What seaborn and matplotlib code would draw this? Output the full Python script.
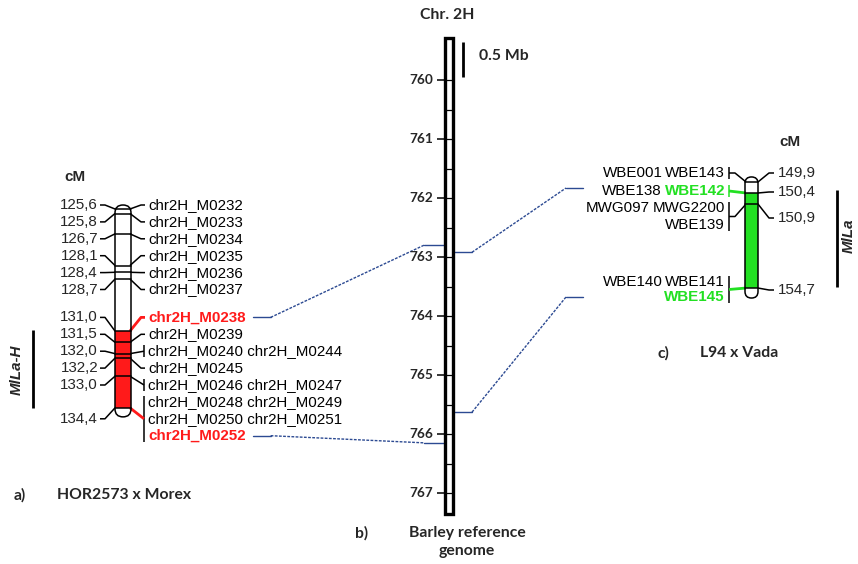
import matplotlib
matplotlib.use("Agg")
import matplotlib.pyplot as plt
import seaborn as sns
import numpy as np
import pandas as pd
from matplotlib.patches import FancyBboxPatch, Rectangle

# ---------------- data ----------------
# a) HOR2573 x Morex
hm_cm = [125.6, 125.8, 126.7, 128.1, 128.4, 128.7, 131.0, 131.5, 132.0, 132.2, 133.0, 134.4]
hm_cm_labels = ["125,6", "125,8", "126,7", "128,1", "128,4", "128,7",
                "131,0", "131,5", "132,0", "132,2", "133,0", "134,4"]
hm_rows = [["chr2H_M0232"], ["chr2H_M0233"], ["chr2H_M0234"], ["chr2H_M0235"],
           ["chr2H_M0236"], ["chr2H_M0237"], ["chr2H_M0238"], ["chr2H_M0239"],
           ["chr2H_M0240", "chr2H_M0244"], ["chr2H_M0245"],
           ["chr2H_M0246", "chr2H_M0247"], ["chr2H_M0248", "chr2H_M0249"],
           ["chr2H_M0250", "chr2H_M0251"], ["chr2H_M0252"]]
hm_row_cm = [125.6, 125.8, 126.7, 128.1, 128.4, 128.7, 131.0, 131.5, 132.0, 132.2,
             133.0, 134.4, 134.4, 134.4]
hm_highlight = ["chr2H_M0238", "chr2H_M0252"]
hm_region = [131.0, 134.4]
hm_locus = "MlLa-H"

# c) L94 x Vada
lv_cm = [149.9, 150.4, 150.9, 154.7]
lv_cm_labels = ["149,9", "150,4", "150,9", "154,7"]
lv_rows = [["WBE001", "WBE143"], ["WBE138", "WBE142"], ["MWG097", "MWG2200"],
           ["WBE139"], ["WBE140", "WBE141"], ["WBE145"]]
lv_row_cm = [149.9, 150.4, 150.9, 150.9, 154.7, 154.7]
lv_highlight = ["WBE142", "WBE145"]
lv_region = [150.4, 154.7]
lv_locus = "MlLa"

# b) Barley reference genome, chr. 2H (Mb)
ref_ticks = [760, 761, 762, 763, 764, 765, 766, 767]
ref_span = [759.29, 767.35]
link_left_markers = ["chr2H_M0238", "chr2H_M0252"]
link_left_mb = [762.80, 766.15]
link_right_markers = ["WBE142", "WBE145"]
link_right_mb = [762.92, 765.63]

# ---------------- style / layout ----------------
sns.set_style("white")
RED = "#ff1a1a"
GREEN = "#22e022"
BLUE = "#2c4a92"
ARIAL = ["Liberation Sans", "DejaVu Sans"]
CALIBRI = ["Lato", "DejaVu Sans"]
FS = 10.9
TS = 11.3

fig = plt.figure(figsize=(8.58, 5.64), dpi=100)
ax = fig.add_axes([0, 0, 1, 1])
ax.set_xlim(0, 858)
ax.set_ylim(564, 0)
ax.axis("off")
renderer = fig.canvas.get_renderer()


def y_hm(c):
    return 209 + (c - 125.6) * 22.6


def y_lv(c):
    return 193 + (c - 150.4) * 22.1


def y_mb(m):
    return 80 + (m - 760) * 59.0


def hm_row_y(i):
    return 205 + 16.9 * i + (11 if i >= 6 else 0)


lv_row_y = [173, 191, 208, 225, 282, 297]
lv_cm_y = [173, 192, 218, 290]
hm_cm_row = [0, 1, 2, 3, 4, 5, 6, 7, 8, 9, 10, 12]


def seg(xs, ys, color="black", lw=1.1, ls="-"):
    ax.plot(xs, ys, color=color, lw=lw, ls=ls, solid_capstyle="butt")


def chromosome(x0, w, top, bottom, region, yfun, color, cms):
    patch = FancyBboxPatch((x0, top), w, bottom - top,
                           boxstyle=f"round,pad=0,rounding_size={w / 2}",
                           fc="white", ec="none", zorder=2)
    ax.add_patch(patch)
    fill = Rectangle((x0, yfun(region[0])), w, yfun(region[1]) - yfun(region[0]),
                     fc=color, ec="none", zorder=3)
    ax.add_patch(fill)
    fill.set_clip_path(patch)
    for c in cms:
        ax.plot([x0, x0 + w], [yfun(c), yfun(c)], color="black", lw=1.1, zorder=4)
    outline = FancyBboxPatch((x0, top), w, bottom - top,
                             boxstyle=f"round,pad=0,rounding_size={w / 2}",
                             fc="none", ec="black", lw=1.1, zorder=5)
    ax.add_patch(outline)


# ---------- a) left map ----------
cx0, cw = 115, 16
chromosome(cx0, cw, y_hm(125.6) - 4, y_hm(134.4) + 9, hm_region, y_hm, RED, hm_cm)

for c, lab, r in zip(hm_cm, hm_cm_labels, hm_cm_row):
    ly = hm_row_y(r)
    ax.text(98, ly, lab, ha="right", va="center", family=ARIAL, fontsize=FS)
    seg([100, 105, cx0], [ly, ly, y_hm(c)])

label_end = {}
for c in hm_cm:
    rows = [i for i, rc in enumerate(hm_row_cm) if rc == c]
    names = [n for i in rows for n in hm_rows[i]]
    hl = any(n in hm_highlight for n in names)
    col = RED if hl else "black"
    lw = 2.0 if hl else 1.1
    ys = [hm_row_y(i) for i in rows]
    if len(names) > 1:
        ytop, ybot = min(ys) - 6, max(ys) + 6
        seg([144, 144], [ytop, ybot], color="black")
        seg([cx0 + cw - 1, 144], [y_hm(c), (ytop + ybot) / 2], color=col, lw=lw)
    else:
        seg([cx0 + cw - 1, 141, 145], [y_hm(c), ys[0], ys[0]], color=col, lw=lw)

for i, row in enumerate(hm_rows):
    ly = hm_row_y(i)
    hl = row[0] in hm_highlight
    t = ax.text(148, ly, " ".join(row), ha="left", va="center", family=ARIAL,
                fontsize=FS, color=RED if hl else "black",
                fontweight="bold" if hl else "normal")
    label_end[row[0]] = t.get_window_extent(renderer).x1

ax.text(75, 177, "cM", ha="center", va="center", family=ARIAL, fontsize=FS,
        fontweight="bold")
seg([33, 33], [y_hm(hm_region[0]) - 1, y_hm(hm_region[1])], lw=2)
ax.text(17, (y_hm(hm_region[0]) + y_hm(hm_region[1])) / 2, hm_locus, rotation=90,
        ha="center", va="center", family=ARIAL, fontsize=FS, fontweight="bold",
        fontstyle="italic")
ax.text(14, 495, "a)", ha="left", va="center", family=CALIBRI, fontsize=TS,
        fontweight="bold")
ax.text(57, 495, "HOR2573 x Morex", ha="left", va="center", family=CALIBRI,
        fontsize=TS, fontweight="bold")

# ---------- b) reference genome ----------
rx0, rw = 444.5, 8.5
for m in ref_ticks:
    seg([437, rx0], [y_mb(m), y_mb(m)])
    ax.text(433, y_mb(m), str(m), ha="right", va="center", family=CALIBRI,
            fontsize=9.8, fontweight="bold")
halves = sorted(set(ref_ticks) | {m + 0.5 for m in ref_ticks[:-1]})
for m in halves:
    seg([rx0, rx0 + rw], [y_mb(m), y_mb(m)], lw=0.9)
ax.add_patch(Rectangle((rx0, y_mb(ref_span[0])), rw,
                       y_mb(ref_span[1]) - y_mb(ref_span[0]),
                       fill=False, ec="black", lw=2.4, zorder=5))
seg([463, 463], [42, 42 + 0.5 * 59 + 5], lw=2)
ax.text(479, 56, "0.5 Mb", ha="left", va="center", family=CALIBRI, fontsize=TS,
        fontweight="bold")
ax.text(447, 15, "Chr. 2H", ha="center", va="center", family=CALIBRI,
        fontsize=TS, fontweight="bold")
ax.text(355, 533, "b)", ha="left", va="center", family=CALIBRI, fontsize=TS,
        fontweight="bold")
ax.text(467, 533, "Barley reference", ha="center", va="center", family=CALIBRI,
        fontsize=TS, fontweight="bold")
ax.text(467, 551, "genome", ha="center", va="center", family=CALIBRI,
        fontsize=TS, fontweight="bold")

# ---------- c) right map ----------
gx0, gw = 745, 13
chromosome(gx0, gw, y_lv(149.9) - 5, y_lv(154.7) + 10, lv_region, y_lv, GREEN, lv_cm)

for c, lab, ly in zip(lv_cm, lv_cm_labels, lv_cm_y):
    seg([gx0 + gw, 769, 774], [y_lv(c), ly, ly])
    ax.text(778, ly, lab, ha="left", va="center", family=ARIAL, fontsize=FS)

space = 2.5
for i, row in enumerate(lv_rows):
    ly = lv_row_y[i]
    x = 725
    for n in reversed(row):
        hl = n in lv_highlight
        t = ax.text(x, ly, n, ha="right", va="center", family=ARIAL, fontsize=FS,
                    color=GREEN if hl else "black",
                    fontweight="bold" if hl else "normal")
        x -= t.get_window_extent(renderer).width + space

for c in lv_cm:
    rows = [i for i, rc in enumerate(lv_row_cm) if rc == c]
    names = [n for i in rows for n in lv_rows[i]]
    hl = any(n in lv_highlight for n in names)
    col = GREEN if hl else "black"
    lw = 2.0 if hl else 1.1
    ys = [lv_row_y[i] for i in rows]
    ytop, ybot = min(ys) - 6, max(ys) + 6
    bcol = col if len(rows) == 1 and hl else "black"
    seg([729, 729], [ytop, ybot], color=bcol)
    ym = (ytop + ybot) / 2
    if abs(ym - y_lv(c)) < 4:
        seg([729, gx0 + 1], [ym, y_lv(c)], color=col, lw=lw)
    else:
        seg([729, 735, gx0 + 1], [ym, ym, y_lv(c)], color=col, lw=lw)

ax.text(790, 142, "cM", ha="center", va="center", family=ARIAL, fontsize=FS,
        fontweight="bold")
seg([837, 837], [190, 287], lw=2)
ax.text(849, 236, lv_locus, rotation=90, ha="center", va="center", family=ARIAL,
        fontsize=FS, fontweight="bold", fontstyle="italic")
ax.text(657, 353, "c)", ha="left", va="center", family=CALIBRI, fontsize=TS,
        fontweight="bold")
ax.text(700, 353, "L94 x Vada", ha="left", va="center", family=CALIBRI,
        fontsize=TS, fontweight="bold")

# ---------- links to reference genome ----------
for name, mb in zip(link_left_markers, link_left_mb):
    i = [k for k, r in enumerate(hm_rows) if name in r][0]
    ly = hm_row_y(i)
    x0 = label_end[name] + 7
    ym = y_mb(mb)
    sns.lineplot(x=[x0, x0 + 18], y=[ly, ly], color=BLUE, lw=1, ax=ax, sort=False,
                 estimator=None)
    sns.lineplot(x=[x0 + 18, 424], y=[ly, ym], color=BLUE, lw=1, ax=ax, sort=False,
                 estimator=None, linestyle=(0, (2, 1)))
    sns.lineplot(x=[424, rx0], y=[ym, ym], color=BLUE, lw=1, ax=ax, sort=False,
                 estimator=None)

for name, mb in zip(link_right_markers, link_right_mb):
    i = [k for k, r in enumerate(lv_rows) if name in r][0]
    ly = lv_row_y[i] - (3 if i == 1 else 0)
    ym = y_mb(mb)
    sns.lineplot(x=[rx0 + rw, 472], y=[ym, ym], color=BLUE, lw=1, ax=ax, sort=False,
                 estimator=None)
    sns.lineplot(x=[472, 566], y=[ym, ly], color=BLUE, lw=1, ax=ax, sort=False,
                 estimator=None, linestyle=(0, (2, 1)))
    sns.lineplot(x=[566, 583], y=[ly, ly], color=BLUE, lw=1, ax=ax, sort=False,
                 estimator=None)

ax.set_xlim(0, 858)
ax.set_ylim(564, 0)
ax.axis("off")
fig.savefig("out.png", dpi=100)
